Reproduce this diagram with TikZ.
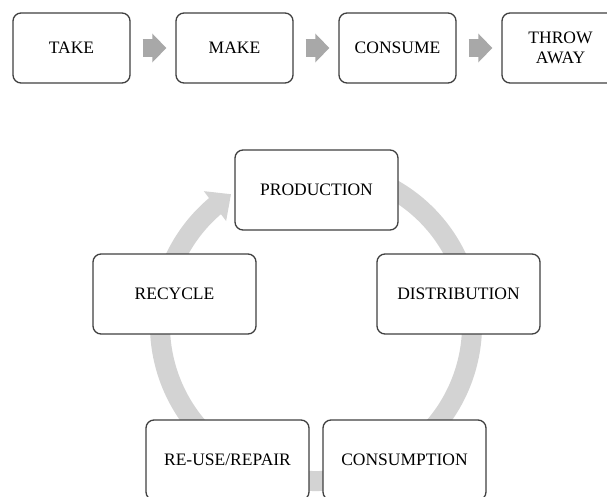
\documentclass[tikz,border=0pt]{standalone}
\usepackage{fontspec}
\setmainfont{Liberation Serif}
\usetikzlibrary{arrows.meta,bending}
\definecolor{ringgray}{RGB}{211,211,211}
\definecolor{arrgray}{RGB}{168,168,168}
\definecolor{boxline}{RGB}{64,64,64}

\begin{document}
\begin{tikzpicture}[x=1pt,y=-1pt]
  \tikzstyle{bnode} = [draw=boxline, line width=1.3pt, fill=white, rounded corners=8pt, align=center, inner sep=2pt, font=\fontsize{17.5}{20}\selectfont]
  \tikzstyle{tnode} = [bnode, minimum width=117pt, minimum height=70pt]
  \tikzstyle{cnode} = [bnode, minimum width=163pt, minimum height=80pt]
  \tikzstyle{barrow} = [draw=arrgray, line width=18pt, -{Triangle[width=28pt,length=14pt]}, shorten <=12pt, shorten >=9pt]
  \useasboundingbox (0,0) rectangle (607,497);
  \clip (0,0) rectangle (607,497);

  % take, make, consume, throw away
  \node[tnode] (take) at (71.5,48) {TAKE};
  \node[tnode] (make) at (234.5,48) {MAKE};
  \node[tnode] (consume) at (397.5,48) {CONSUME};
  \node[tnode] (throw) at (560.5,48) {THROW\\AWAY};

  \draw[barrow] (take) -- (make);
  \draw[barrow] (make) -- (consume);
  \draw[barrow] (consume) -- (throw);

  % the cycle
  \coordinate (hub) at (316,325);
  \draw[draw=ringgray, line width=20pt, -{Triangle[width=36pt,length=20pt,flex]}] (hub) ++(-70:156) arc[start angle=-70, end angle=237, radius=156];

  \node[cnode] (prod) at (316.5,190) {PRODUCTION};
  \node[cnode] (dist) at (458.5,294) {DISTRIBUTION};
  \node[cnode] (cons) at (404.5,460) {CONSUMPTION};
  \node[cnode] (reuse) at (227.5,460) {RE-USE/REPAIR};
  \node[cnode] (recyc) at (174.5,294) {RECYCLE};
\end{tikzpicture}
\end{document}
